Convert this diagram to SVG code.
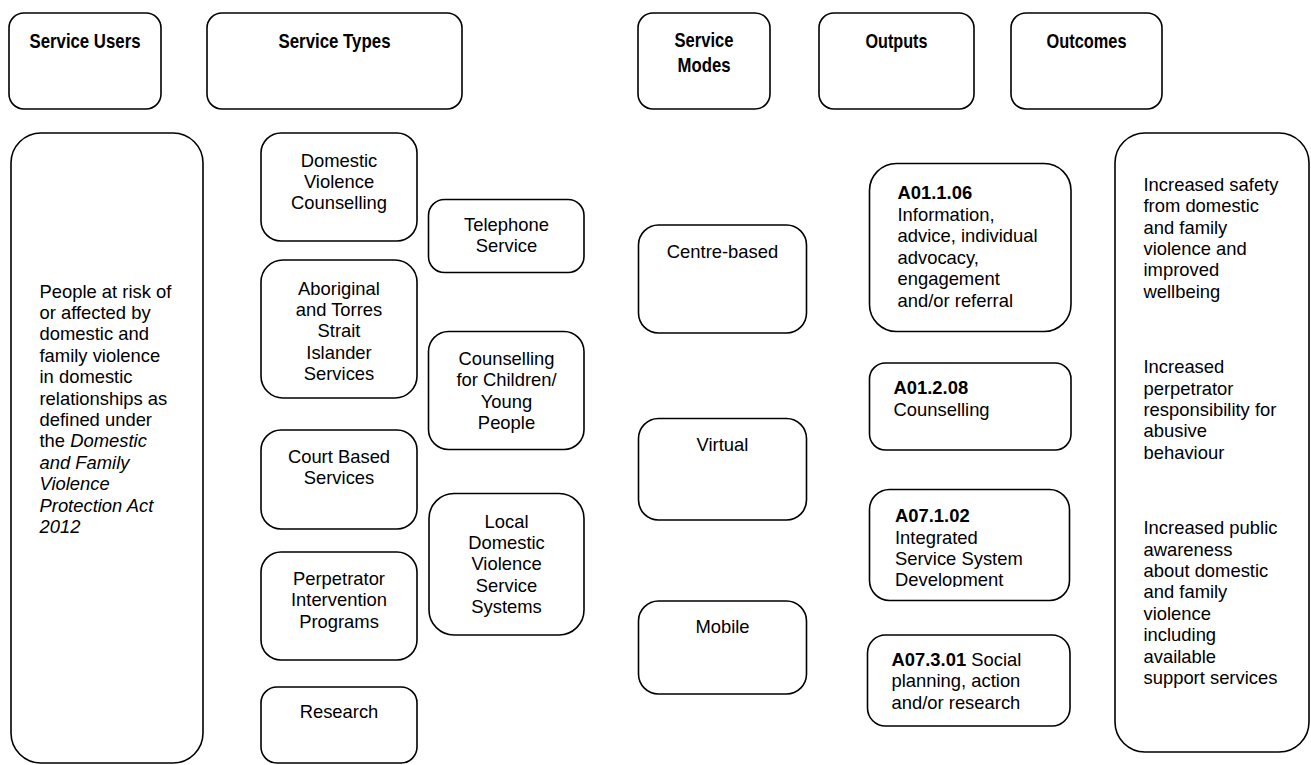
<svg xmlns="http://www.w3.org/2000/svg" width="1311" height="765" viewBox="0 0 1311 765">
<style>
.box{fill:#fff;stroke:#000;stroke-width:1.6}
.h{font-family:"Liberation Sans",Arial,sans-serif;font-weight:bold;font-size:20.5px;text-anchor:middle;fill:#000}
.t{font-family:"Liberation Sans",Arial,sans-serif;font-size:18.4px;fill:#000}
.c{text-anchor:middle}
.b{font-weight:bold}
.i{font-style:italic}
</style>
<defs>
<clipPath id="clipDev"><rect x="860" y="480" width="220" height="107"/></clipPath>
</defs>
<rect width="1311" height="765" fill="#fff"/>
<g id="connectors"></g>

<g id="hdr-users"><rect class="box" x="9" y="13" width="152" height="96" rx="15"/>
<text class="h" x="85" y="48" textLength="111" lengthAdjust="spacingAndGlyphs">Service Users</text></g>
<g id="hdr-types"><rect class="box" x="207" y="13" width="255" height="96" rx="15"/>
<text class="h" x="334.5" y="48" textLength="112" lengthAdjust="spacingAndGlyphs">Service Types</text></g>
<g id="hdr-modes"><rect class="box" x="638" y="13" width="132" height="96" rx="15"/>
<text class="h" x="704" y="47" textLength="59" lengthAdjust="spacingAndGlyphs">Service</text>
<text class="h" x="704" y="72" textLength="53" lengthAdjust="spacingAndGlyphs">Modes</text></g>
<g id="hdr-outputs"><rect class="box" x="819" y="13" width="155" height="96" rx="15"/>
<text class="h" x="896.5" y="48" textLength="62" lengthAdjust="spacingAndGlyphs">Outputs</text></g>
<g id="hdr-outcomes"><rect class="box" x="1011" y="13" width="151" height="96" rx="15"/>
<text class="h" x="1086.5" y="48" textLength="80" lengthAdjust="spacingAndGlyphs">Outcomes</text></g>

<g id="users"><rect class="box" x="11" y="133" width="192" height="630" rx="30"/>
<text class="t" x="39.5" y="297.5">People at risk of</text>
<text class="t" x="39.5" y="318.9">or affected by</text>
<text class="t" x="39.5" y="340.3">domestic and</text>
<text class="t" x="39.5" y="361.8">family violence</text>
<text class="t" x="39.5" y="383.2">in domestic</text>
<text class="t" x="39.5" y="404.6">relationships as</text>
<text class="t" x="39.5" y="426.0">defined under</text>
<text class="t" x="39.5" y="447.4">the <tspan class="i">Domestic</tspan></text>
<text class="t i" x="39.5" y="468.9">and Family</text>
<text class="t i" x="39.5" y="490.3">Violence</text>
<text class="t i" x="39.5" y="511.7">Protection Act</text>
<text class="t i" x="39.5" y="533.1">2012</text></g>

<g id="type-dvc"><rect class="box" x="261" y="133" width="156" height="108" rx="20"/>
<text class="t c" x="339" y="166.5">Domestic</text>
<text class="t c" x="339" y="187.8">Violence</text>
<text class="t c" x="339" y="209.2">Counselling</text></g>
<g id="type-atsi"><rect class="box" x="261" y="260" width="156" height="138" rx="22"/>
<text class="t c" x="339" y="294.8">Aboriginal</text>
<text class="t c" x="339" y="316.1">and Torres</text>
<text class="t c" x="339" y="337.4">Strait</text>
<text class="t c" x="339" y="358.7">Islander</text>
<text class="t c" x="339" y="380.0">Services</text></g>
<g id="type-court"><rect class="box" x="261" y="430" width="156" height="99" rx="20"/>
<text class="t c" x="339" y="463.2">Court Based</text>
<text class="t c" x="339" y="484.4">Services</text></g>
<g id="type-perp"><rect class="box" x="261" y="552" width="156" height="108" rx="20"/>
<text class="t c" x="339" y="584.8">Perpetrator</text>
<text class="t c" x="339" y="606.2">Intervention</text>
<text class="t c" x="339" y="627.6">Programs</text></g>
<g id="type-research"><rect class="box" x="261" y="687" width="156" height="76" rx="16"/>
<text class="t c" x="339" y="718">Research</text></g>
<g id="type-phone"><rect class="box" x="428.5" y="199.5" width="155.5" height="73" rx="16"/>
<text class="t c" x="506.5" y="230.8">Telephone</text>
<text class="t c" x="506.5" y="252.2">Service</text></g>
<g id="type-children"><rect class="box" x="428.5" y="331.5" width="155.5" height="118" rx="20"/>
<text class="t c" x="506.5" y="364.8">Counselling</text>
<text class="t c" x="506.5" y="386.2">for Children/</text>
<text class="t c" x="506.5" y="407.6">Young</text>
<text class="t c" x="506.5" y="429.0">People</text></g>
<g id="type-local"><rect class="box" x="429" y="493.5" width="155" height="141.5" rx="25"/>
<text class="t c" x="506.5" y="527.5">Local</text>
<text class="t c" x="506.5" y="548.9">Domestic</text>
<text class="t c" x="506.5" y="570.3">Violence</text>
<text class="t c" x="506.5" y="591.7">Service</text>
<text class="t c" x="506.5" y="613.1">Systems</text></g>

<g id="mode-centre"><rect class="box" x="638.5" y="225" width="168" height="108" rx="20"/>
<text class="t c" x="722.5" y="258.2">Centre-based</text></g>
<g id="mode-virtual"><rect class="box" x="638.5" y="418.5" width="168" height="101.5" rx="20"/>
<text class="t c" x="722.5" y="450.8">Virtual</text></g>
<g id="mode-mobile"><rect class="box" x="638.5" y="601" width="168" height="93" rx="20"/>
<text class="t c" x="722.5" y="633.2">Mobile</text></g>

<g id="out-a01106"><rect class="box" x="869.5" y="163.5" width="201.5" height="168" rx="27"/>
<text class="t b" x="897.5" y="199.2">A01.1.06</text>
<text class="t" x="897.5" y="220.8">Information,</text>
<text class="t" x="897.5" y="242.2">advice, individual</text>
<text class="t" x="897.5" y="263.8">advocacy,</text>
<text class="t" x="897.5" y="285.3">engagement</text>
<text class="t" x="897.5" y="306.9">and/or referral</text></g>
<g id="out-a01208"><rect class="box" x="869.5" y="363" width="201.5" height="87" rx="16"/>
<text class="t b" x="893.5" y="394.2">A01.2.08</text>
<text class="t" x="893.5" y="415.8">Counselling</text></g>
<g id="out-a07102"><rect class="box" x="869.5" y="489.5" width="200" height="111" rx="20"/>
<g clip-path="url(#clipDev)">
<text class="t b" x="895" y="522.2">A07.1.02</text>
<text class="t" x="895" y="543.6">Integrated</text>
<text class="t" x="895" y="565.0">Service System</text>
<text class="t" x="895" y="586.4">Development</text></g></g>
<g id="out-a07301"><rect class="box" x="867.5" y="635" width="202.5" height="91" rx="18"/>
<text class="t" x="891.5" y="665.8"><tspan class="b">A07.3.01</tspan> Social</text>
<text class="t" x="891.5" y="687.2">planning, action</text>
<text class="t" x="891.5" y="708.6">and/or research</text></g>

<g id="outcomes"><rect class="box" x="1115" y="133" width="194" height="619" rx="30"/>
<text class="t" x="1143.5" y="190.8">Increased safety</text>
<text class="t" x="1143.5" y="212.2">from domestic</text>
<text class="t" x="1143.5" y="233.6">and family</text>
<text class="t" x="1143.5" y="255.0">violence and</text>
<text class="t" x="1143.5" y="276.4">improved</text>
<text class="t" x="1143.5" y="297.8">wellbeing</text>
<text class="t" x="1143.5" y="373.2">Increased</text>
<text class="t" x="1143.5" y="394.6">perpetrator</text>
<text class="t" x="1143.5" y="416.0">responsibility for</text>
<text class="t" x="1143.5" y="437.4">abusive</text>
<text class="t" x="1143.5" y="458.8">behaviour</text>
<text class="t" x="1143.5" y="534.2">Increased public</text>
<text class="t" x="1143.5" y="555.6">awareness</text>
<text class="t" x="1143.5" y="577.0">about domestic</text>
<text class="t" x="1143.5" y="598.4">and family</text>
<text class="t" x="1143.5" y="619.8">violence</text>
<text class="t" x="1143.5" y="641.2">including</text>
<text class="t" x="1143.5" y="662.6">available</text>
<text class="t" x="1143.5" y="684.0">support services</text></g>
</svg>
